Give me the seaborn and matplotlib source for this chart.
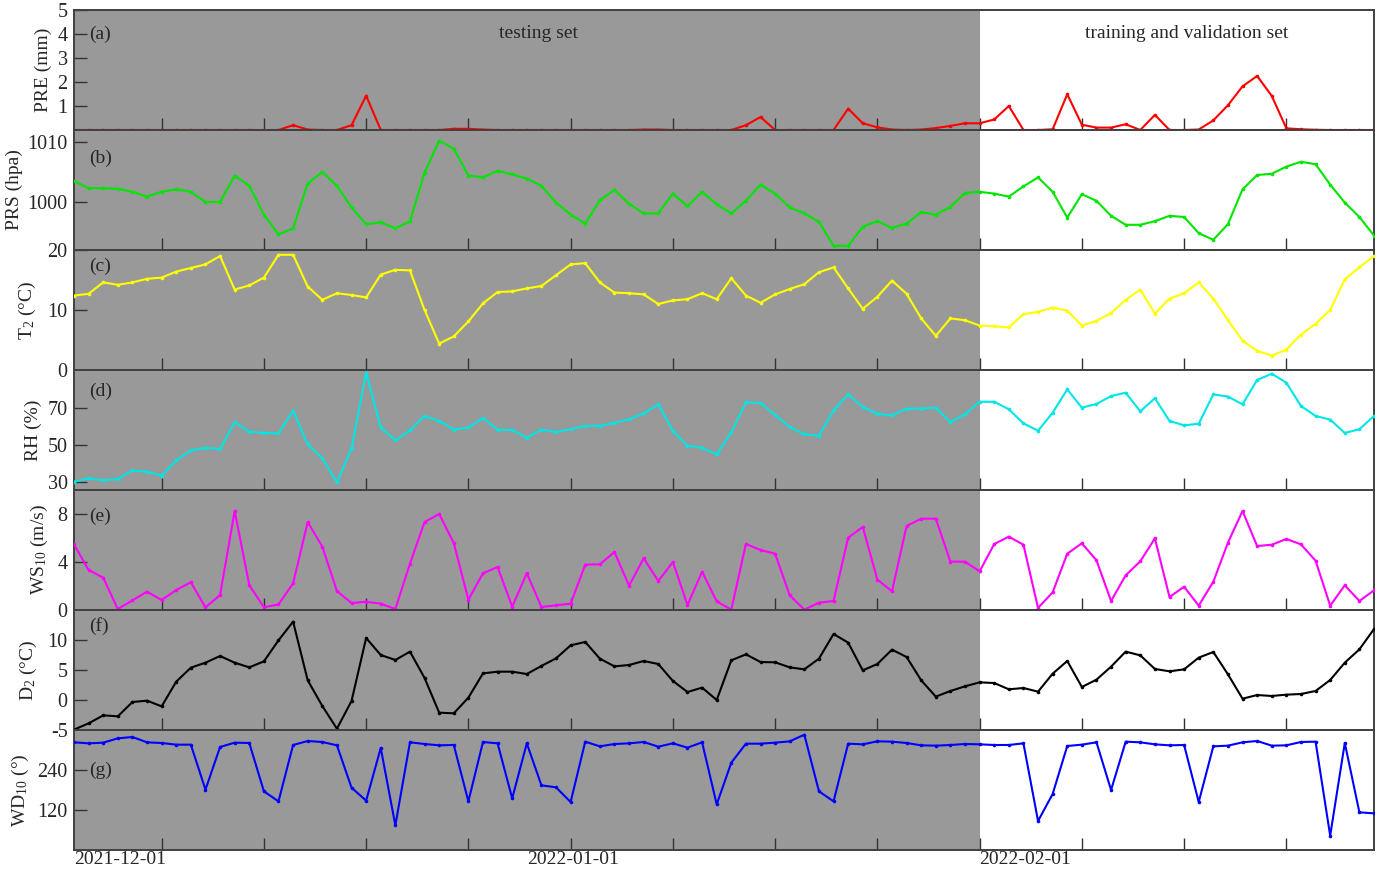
import numpy as np
import pandas as pd
import matplotlib
matplotlib.use("Agg")
import matplotlib.pyplot as plt
import matplotlib.transforms as mtransforms
import seaborn as sns

# ---------------- data ----------------
dates = pd.date_range("2021-12-01", "2022-02-28", freq="D")
split_date = pd.Timestamp("2022-02-01")
tick_dates = pd.date_range("2021-12-07", "2022-02-28", freq="7D")
date_labels = ["2021-12-01", "2022-01-01", "2022-02-01"]

pre = [0, 0, 0, 0, 0, 0, 0, 0, 0, 0,
       0, 0, 0, 0, 0.0, 0.2, 0.02, 0, 0, 0.2,
       1.43, 0, 0, 0, 0, 0, 0.05, 0.05, 0.02, 0,
       0, 0, 0, 0, 0, 0, 0, 0, 0, 0.02,
       0.02, 0, 0, 0, 0, 0, 0.2, 0.54, 0, 0,
       0, 0, 0, 0.89, 0.28, 0.11, 0.02, 0.0, 0.02, 0.08,
       0.17, 0.28, 0.28, 0.44, 1.0, 0, 0, 0.03, 1.49, 0.22,
       0.1, 0.1, 0.24, 0.0, 0.63, 0, 0, 0.02, 0.4, 1.03,
       1.82, 2.25, 1.42, 0.07, 0.03, 0.01, 0, 0, 0, 0]

prs = [1003.5, 1002.3, 1002.3, 1002.2, 1001.7, 1000.9, 1001.7, 1002.1, 1001.7, 1000.0,
       1000.0, 1004.4, 1002.7, 997.9, 994.6, 995.6, 1003.1, 1005.0, 1002.7, 999.1,
       996.3, 996.6, 995.6, 996.8, 1004.9, 1010.2, 1008.9, 1004.4, 1004.1, 1005.2,
       1004.6, 1003.9, 1002.7, 999.9, 997.9, 996.4, 1000.3, 1002.0, 999.7, 998.1,
       998.1, 1001.4, 999.3, 1001.7, 999.6, 998.1, 1000.2, 1002.9, 1001.4, 999.1,
       998.1, 996.7, 992.7, 992.7, 995.9, 996.8, 995.7, 996.4, 998.3, 997.9,
       999.2, 1001.5, 1001.7, 1001.4, 1000.9, 1002.6, 1004.1, 1001.7, 997.4, 1001.3,
       1000.2, 997.7, 996.2, 996.2, 996.8, 997.7, 997.5, 994.8, 993.7, 996.3,
       1002.1, 1004.5, 1004.7, 1005.9, 1006.7, 1006.3, 1002.9, 999.9, 997.5, 994.4]

t2 = [12.4, 12.7, 14.6, 14.2, 14.6, 15.2, 15.4, 16.4, 17.0, 17.6,
      19.0, 13.4, 14.1, 15.4, 19.2, 19.2, 13.9, 11.7, 12.8, 12.5,
      12.1, 15.9, 16.7, 16.6, 10.0, 4.4, 5.6, 8.1, 11.1, 13.0,
      13.1, 13.6, 14.0, 15.8, 17.6, 17.8, 14.6, 12.9, 12.8, 12.6,
      11.0, 11.6, 11.8, 12.8, 11.8, 15.3, 12.4, 11.2, 12.6, 13.5,
      14.3, 16.3, 17.1, 13.6, 10.2, 12.2, 14.9, 12.7, 8.6, 5.7,
      8.6, 8.3, 7.4, 7.3, 7.1, 9.3, 9.7, 10.4, 9.9, 7.4,
      8.2, 9.5, 11.7, 13.4, 9.4, 11.9, 12.8, 14.6, 11.9, 8.3,
      4.9, 3.2, 2.4, 3.4, 5.9, 7.7, 10.0, 15.1, 17.1, 19.0]

rh = [30.0, 31.8, 30.7, 31.5, 36.1, 35.4, 33.3, 41.6, 47.0, 48.4,
      47.7, 62.2, 57.1, 56.4, 56.2, 68.5, 50.2, 42.6, 29.6, 48.1,
      89.1, 59.4, 52.4, 57.8, 65.6, 62.9, 58.2, 59.4, 64.5, 58.2,
      58.0, 53.8, 58.2, 56.9, 58.5, 60.2, 60.3, 61.8, 63.8, 67.0,
      71.9, 57.5, 49.5, 48.4, 44.8, 56.7, 73.0, 72.6, 66.1, 59.6,
      55.7, 54.9, 68.7, 77.3, 70.5, 66.8, 65.9, 69.6, 69.6, 70.1,
      62.3, 66.5, 73.3, 73.3, 69.2, 61.6, 57.6, 67.4, 80.0, 70.1,
      72.1, 76.4, 78.2, 68.1, 75.2, 62.9, 60.5, 61.4, 77.3, 76.1,
      71.9, 85.1, 88.5, 83.6, 71.0, 65.6, 63.6, 56.4, 58.4, 65.6]

ws10 = [5.47, 3.33, 2.69, 0.08, 0.8, 1.53, 0.83, 1.67, 2.31, 0.22,
        1.25, 8.25, 2.08, 0.22, 0.47, 2.22, 7.33, 5.28, 1.58, 0.58,
        0.69, 0.53, 0.08, 3.86, 7.33, 8.0, 5.58, 0.86, 3.06, 3.58,
        0.28, 3.06, 0.25, 0.39, 0.53, 3.78, 3.81, 4.83, 2.03, 4.31,
        2.42, 4.0, 0.42, 3.19, 0.72, 0.03, 5.5, 5.0, 4.69, 1.22,
        0.03, 0.61, 0.75, 6.03, 6.92, 2.53, 1.56, 7.0, 7.61, 7.61,
        4.03, 4.03, 3.22, 5.5, 6.11, 5.44, 0.17, 1.47, 4.69, 5.56,
        4.14, 0.75, 2.89, 4.06, 5.97, 1.08, 1.94, 0.36, 2.36, 5.61,
        8.25, 5.33, 5.44, 5.92, 5.47, 4.11, 0.36, 2.06, 0.75, 1.64]

d2 = [-4.94, -3.89, -2.56, -2.72, -0.33, -0.11, -1.06, 3.06, 5.39, 6.22,
      7.33, 6.22, 5.44, 6.44, 9.94, 13.06, 3.28, -1.0, -4.78, -0.17,
      10.33, 7.5, 6.67, 8.06, 3.67, -2.11, -2.22, 0.39, 4.44, 4.72,
      4.72, 4.33, 5.67, 6.94, 9.11, 9.67, 6.89, 5.61, 5.83, 6.5,
      6.0, 3.17, 1.33, 2.06, 0.0, 6.61, 7.61, 6.33, 6.28, 5.44,
      5.11, 6.89, 11.0, 9.56, 4.94, 6.0, 8.39, 7.17, 3.28, 0.56,
      1.5, 2.28, 2.94, 2.83, 1.78, 2.0, 1.39, 4.39, 6.5, 2.17,
      3.39, 5.56, 8.06, 7.44, 5.17, 4.78, 5.11, 7.06, 8.0, 4.28,
      0.22, 0.83, 0.67, 0.89, 1.0, 1.5, 3.33, 6.22, 8.44, 11.83]

wd10 = [323, 320, 322, 335, 339, 323, 321, 316, 316, 181,
        309, 322, 321, 176, 146, 315, 327, 324, 314, 187,
        148, 306, 74, 323, 318, 314, 315, 146, 324, 320,
        155, 320, 194, 188, 144, 325, 311, 318, 320, 324,
        310, 320, 307, 323, 137, 262, 319, 319, 322, 326,
        346, 176, 146, 319, 317, 326, 325, 321, 314, 313,
        315, 318, 317, 315, 315, 320, 87, 168, 312, 316,
        323, 180, 325, 323, 317, 314, 315, 144, 311, 313,
        323, 327, 313, 314, 324, 325, 43, 321, 113, 110]

series = [
    ("PRE (mm)", pre, "#ff0000", (0, 5), [1, 2, 3, 4, 5], "(a)"),
    ("PRS (hpa)", prs, "#00e600", (992, 1012), [1000, 1010], "(b)"),
    ("T$_2$ (°C)", t2, "#ffff00", (0, 20), [0, 10, 20], "(c)"),
    ("RH (%)", rh, "#00e6e6", (25.5, 90.5), [30, 50, 70], "(d)"),
    ("WS$_{10}$ (m/s)", ws10, "#ff00ff", (0, 10), [0, 4, 8], "(e)"),
    ("D$_2$ (°C)", d2, "#000000", (-5, 15), [-5, 0, 5, 10], "(f)"),
    ("WD$_{10}$ (°)", wd10, "#0000ff", (0, 360), [120, 240], "(g)"),
]

# ---------------- style ----------------
sns.set_style("ticks")
plt.rcParams["font.family"] = ["Liberation Serif", "DejaVu Serif"]
plt.rcParams["mathtext.fontset"] = "custom"
plt.rcParams["mathtext.rm"] = "Liberation Serif"
plt.rcParams["mathtext.it"] = "Liberation Serif:italic"
plt.rcParams["mathtext.bf"] = "Liberation Serif:bold"
plt.rcParams["axes.unicode_minus"] = False

W, H = 1384, 872
fig = plt.figure(figsize=(W / 100, H / 100), dpi=100)

left_px, right_px, top_px, panel_h = 74, 1374, 10, 120
label_right_px = [52, 23, 38, 42, 50, 39, 31]
panel_label_y = [0.80, 0.767, 0.867, 0.82, 0.78, 0.867, 0.667]
frame_col = "#404040"
shade_col = "#999999"

axes = []
for k, (ylab, vals, col, ylim, yticks, plab) in enumerate(series):
    y0 = top_px + panel_h * (k + 1)
    ax = fig.add_axes([left_px / W, 1 - y0 / H, (right_px - left_px) / W, panel_h / H])
    axes.append(ax)
    ax.axvspan(dates[0], split_date, color=shade_col, lw=0, zorder=0)
    df = pd.DataFrame({"date": dates, "value": vals})
    sns.lineplot(data=df, x="date", y="value", ax=ax, color=col, linewidth=1.5,
                 marker="o", markersize=2.6, markeredgewidth=0, zorder=3)
    ax.set_xlim(dates[0], dates[-1])
    ax.set_ylim(*ylim)
    ax.set_yticks(yticks)
    ax.set_xticks(tick_dates)
    ax.set_xlabel("")
    ax.set_ylabel(ylab, fontsize=14)
    ax.yaxis.set_label_coords((label_right_px[k] - left_px) / (right_px - left_px), 0.5)
    ax.tick_params(axis="x", direction="in", length=9, width=1.0, labelbottom=False,
                   color="#333333", bottom=True, top=False)
    ax.tick_params(axis="y", direction="in", length=9, width=1.0, labelsize=14.5, pad=4.5,
                   color="#333333", left=True, right=False)
    for t, d in zip(ax.xaxis.get_major_ticks(), tick_dates):
        if d > split_date:
            t.tick1line.set_color("#dddddd")
    for s in ax.spines.values():
        s.set_color(frame_col)
        s.set_linewidth(1.4)
        s.set_visible(True)
    ax.text(0.0115, panel_label_y[k], plab, transform=ax.transAxes, fontsize=14,
            ha="left", va="center")

axes[0].text(0.357, 0.80, "testing set", transform=axes[0].transAxes, fontsize=14,
             ha="center", va="center")
axes[0].text(0.856, 0.80, "training and validation set", transform=axes[0].transAxes,
             fontsize=14, ha="center", va="center")

bax = axes[-1]
trans = mtransforms.blended_transform_factory(bax.transData, bax.transAxes)
for lab in date_labels:
    bax.text(pd.Timestamp(lab), -0.005, lab, transform=trans, fontsize=14,
             ha="left", va="top")

fig.savefig("out.png", dpi=100)
